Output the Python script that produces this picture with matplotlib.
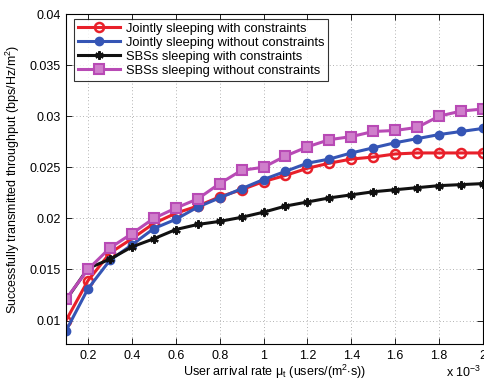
import matplotlib
matplotlib.use("Agg")
import matplotlib.pyplot as plt

plt.rcParams['font.family'] = ['Liberation Sans', 'DejaVu Sans']
plt.rcParams['mathtext.fontset'] = 'custom'
plt.rcParams['mathtext.rm'] = 'Liberation Sans'
plt.rcParams['mathtext.it'] = 'Liberation Sans'

# user arrival rate (x 10^-3)
arrival_rate = [0.1, 0.2, 0.3, 0.4, 0.5, 0.6, 0.7, 0.8, 0.9, 1.0,
                1.1, 1.2, 1.3, 1.4, 1.5, 1.6, 1.7, 1.8, 1.9, 2.0]

joint_with = [0.0100, 0.0139, 0.0166, 0.0180, 0.0195, 0.0205, 0.0212, 0.0221, 0.0228, 0.0236,
              0.0242, 0.0249, 0.0254, 0.0258, 0.0260, 0.0263, 0.0264, 0.0264, 0.0264, 0.0264]
joint_without = [0.0090, 0.0131, 0.0159, 0.0174, 0.0190, 0.0199, 0.0211, 0.0220, 0.0229, 0.0238,
                 0.0246, 0.0254, 0.0258, 0.0264, 0.0269, 0.0274, 0.0278, 0.0282, 0.0285, 0.0288]
sbs_with = [0.0120, 0.0151, 0.0160, 0.0172, 0.0180, 0.0189, 0.0194, 0.0197, 0.0201, 0.0206,
            0.0212, 0.0216, 0.0220, 0.0223, 0.0226, 0.0228, 0.0230, 0.0232, 0.0233, 0.0234]
sbs_without = [0.0121, 0.0150, 0.0171, 0.0185, 0.0200, 0.0210, 0.0219, 0.0234, 0.0247, 0.0250,
               0.0261, 0.0270, 0.0277, 0.0280, 0.0285, 0.0286, 0.0289, 0.0300, 0.0305, 0.0307]

labels = ['Jointly sleeping with constraints',
          'Jointly sleeping without constraints',
          'SBSs sleeping with constraints',
          'SBSs sleeping without constraints']

x_ticks = [0.2, 0.4, 0.6, 0.8, 1.0, 1.2, 1.4, 1.6, 1.8, 2.0]
x_tick_labels = ['0.2', '0.4', '0.6', '0.8', '1', '1.2', '1.4', '1.6', '1.8', '2']
y_ticks = [0.01, 0.015, 0.02, 0.025, 0.03, 0.035, 0.04]
y_tick_labels = ['0.01', '0.015', '0.02', '0.025', '0.03', '0.035', '0.04']

fig = plt.figure(figsize=(4.85, 3.83), dpi=100)
ax = fig.add_axes([66 / 485, 1 - 344 / 383, 417 / 485, 330 / 383])

ax.plot(arrival_rate, joint_with, color='#e8202a', lw=2.2, marker='o', ms=6.5,
        mfc='none', mew=1.8, label=labels[0])
ax.plot(arrival_rate, joint_without, color='#3555b5', lw=2.2, marker='o', ms=6,
        mfc='#3555b5', label=labels[1])
ax.plot(arrival_rate, sbs_with, color='#111111', lw=2.2, marker=(6, 2, 0), ms=6,
        mew=1.6, label=labels[2])
ax.plot(arrival_rate, sbs_without, color='#b84ab5', lw=2.2, marker='s', ms=6.5,
        mfc='#cf7fcb', mec='#b84ab5', mew=1.5, label=labels[3])

ax.set_xlim(0.1, 2.0)
ax.set_ylim(0.0077, 0.04)
ax.set_xticks(x_ticks)
ax.set_xticklabels(x_tick_labels)
ax.set_yticks(y_ticks)
ax.set_yticklabels(y_tick_labels)
ax.tick_params(direction='in', labelsize=9, top=True, right=True, length=4, width=0.6, pad=4)
ax.grid(True, linestyle=(0, (1, 3)), color='#999999', lw=0.6)
for s in ax.spines.values():
    s.set_linewidth(0.8)

ax.set_xlabel(r'User arrival rate $\mu_t$ (users/(m$^2$$\cdot$s))', fontsize=9, labelpad=1)
ax.set_ylabel(r'Successfully transmitted throughput (bps/Hz/m$^2$)', fontsize=9, labelpad=5)
ax.text(0.995, -0.1, r'x 10$^{-3}$', transform=ax.transAxes, fontsize=9,
        ha='right', va='baseline')

leg = ax.legend(loc='upper left', fontsize=9.3, frameon=True, fancybox=False,
                edgecolor='black', bbox_to_anchor=(0.02, 0.985), borderaxespad=0,
                handlelength=3.2, labelspacing=0.15, borderpad=0.3, handletextpad=0.5)
leg.get_frame().set_linewidth(0.8)

fig.savefig('out.png', dpi=100)
